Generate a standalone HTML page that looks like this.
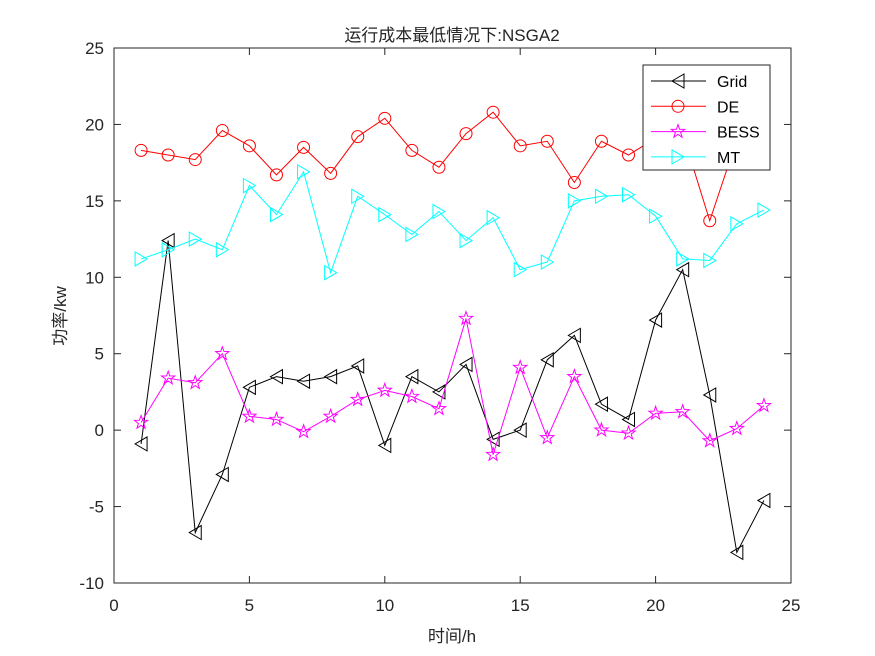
<!DOCTYPE html>
<html><head><meta charset="utf-8"><style>
body{margin:0;background:#fff}
svg{display:block}
text{font-family:"Liberation Sans","Noto Sans CJK SC",sans-serif}
</style></head><body>
<svg id="s" width="875" height="656" xmlns="http://www.w3.org/2000/svg">
<rect width="875" height="656" fill="#fff"/>
<rect x="114" y="48" width="677" height="535" fill="#fff" stroke="#262626" stroke-width="1"/>
<g id="g"></g>
</svg>
<script>
const X0=114,X1=791,Y0=583,Y1=48;
const px=x=>X0+(x)*(X1-X0)/25, py=y=>Y0-(y+10)*(Y0-Y1)/35;
const g=document.getElementById('g');let h='';
for(let i=0;i<=25;i+=5){const x=px(i);h+=`<line x1="${x}" y1="583" x2="${x}" y2="576" stroke="#262626"/><line x1="${x}" y1="48" x2="${x}" y2="55" stroke="#262626"/><text x="${x}" y="611" font-size="17" text-anchor="middle" fill="#262626">${i}</text>`;}
for(let v=-10;v<=25;v+=5){const y=py(v);h+=`<line x1="114" y1="${y}" x2="121" y2="${y}" stroke="#262626"/><line x1="791" y1="${y}" x2="784" y2="${y}" stroke="#262626"/><text x="104" y="${y+6}" font-size="17" text-anchor="end" fill="#262626">${v}</text>`;}
h+=`<text x="452" y="41" font-size="17" text-anchor="middle" fill="#262626">运行成本最低情况下:NSGA2</text>`;
h+=`<text x="452" y="642" font-size="17" text-anchor="middle" fill="#262626">时间/h</text>`;
h+=`<text transform="translate(66,316) rotate(-90)" font-size="17" text-anchor="middle" fill="#262626">功率/kw</text>`;
const S=[
{c:'#000',m:'L',d:[-0.9,12.4,-6.7,-2.9,2.8,3.5,3.2,3.5,4.2,-1.0,3.5,2.5,4.3,-0.6,0.0,4.6,6.2,1.7,0.7,7.2,10.5,2.3,-8.0,-4.6],n:'Grid'},
{c:'#f00',m:'O',d:[18.3,18.0,17.7,19.6,18.6,16.7,18.5,16.8,19.2,20.4,18.3,17.2,19.4,20.8,18.6,18.9,16.2,18.9,18.0,19.1,19.4,13.7,19.0,19.5],n:'DE'},
{c:'#f0f',m:'S',d:[0.5,3.4,3.1,5.0,0.9,0.7,-0.1,0.9,2.0,2.6,2.2,1.4,7.3,-1.6,4.1,-0.5,3.5,0.0,-0.2,1.1,1.2,-0.7,0.1,1.6],n:'BESS'},
{c:'#0ff',m:'R',d:[11.2,11.8,12.5,11.8,16.0,14.1,16.9,10.3,15.3,14.1,12.8,14.3,12.4,13.9,10.5,11.0,15.0,15.3,15.4,14.0,11.2,11.1,13.5,14.4],n:'MT'}];
function mk(t,x,y,c){
 if(t=='O')return `<circle cx="${x}" cy="${y}" r="6" fill="none" stroke="${c}"/>`;
 if(t=='L')return `<polygon points="${x-6},${y} ${x+6},${y-7} ${x+6},${y+7}" fill="none" stroke="${c}"/>`;
 if(t=='R')return `<polygon points="${x+6},${y} ${x-6},${y-7} ${x-6},${y+7}" fill="none" stroke="${c}"/>`;
 let p=[];for(let k=0;k<10;k++){const r=k%2?2.8:7,a=-Math.PI/2+k*Math.PI/5;p.push((x+r*Math.cos(a)).toFixed(1)+','+(y+r*Math.sin(a)).toFixed(1));}
 return `<polygon points="${p.join(' ')}" fill="none" stroke="${c}"/>`;}
S.forEach(s=>{const pts=s.d.map((v,i)=>[px(i+1),py(v)]);
 h+=`<polyline points="${pts.map(p=>p.join(',')).join(' ')}" fill="none" stroke="${s.c}"/>`;
 pts.forEach(p=>h+=mk(s.m,p[0],p[1],s.c));});
h+=`<rect x="643" y="65" width="127" height="105" fill="#fff" stroke="#262626"/>`;
S.forEach((s,i)=>{const y=81+i*25.3;h+=`<line x1="651" y1="${y}" x2="706" y2="${y}" stroke="${s.c}"/>`+mk(s.m,678,y,s.c)+`<text x="717" y="${y+6}" font-size="16" fill="#000">${s.n}</text>`;});
g.innerHTML=h;
</script>
</body></html>
